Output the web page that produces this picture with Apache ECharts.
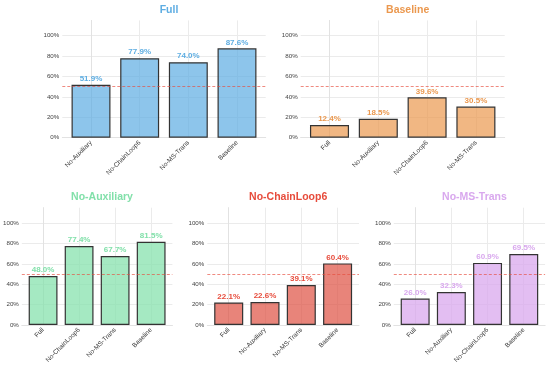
<!DOCTYPE html>
<html>
<head>
<meta charset="utf-8">
<script src="https://cdn.jsdelivr.net/npm/echarts@6/dist/echarts.min.js"></script>
<style>
html,body{margin:0;padding:0;background:#fff;}
#chart{width:550px;height:367px;}
</style>
</head>
<body>
<div id="chart"></div>
<script>
// ---- data ----
const panelTitles = ['Full', 'Baseline', 'No-Auxiliary', 'No-ChainLoop6', 'No-MS-Trans'];

const fullCats = ['No-Auxiliary', 'No-ChainLoop6', 'No-MS-Trans', 'Baseline'];
const fullVals = [51.9, 77.9, 74.0, 87.6];

const baselineCats = ['Full', 'No-Auxiliary', 'No-ChainLoop6', 'No-MS-Trans'];
const baselineVals = [12.4, 18.5, 39.6, 30.5];

const noAuxCats = ['Full', 'No-ChainLoop6', 'No-MS-Trans', 'Baseline'];
const noAuxVals = [48.0, 77.4, 67.7, 81.5];

const noChainCats = ['Full', 'No-Auxiliary', 'No-MS-Trans', 'Baseline'];
const noChainVals = [22.1, 22.6, 39.1, 60.4];

const noMSCats = ['Full', 'No-Auxiliary', 'No-ChainLoop6', 'Baseline'];
const noMSVals = [26.0, 32.3, 60.9, 69.5];

const yTicks = [0, 20, 40, 60, 80, 100];
const threshold = 50;

// ---- styling / layout ----
const FONT = '"Liberation Sans", Arial, Helvetica, sans-serif';
const panels = [
  { cats: fullCats,     vals: fullVals,     title: '#5DADE2', bar: 'rgba(93,173,226,0.7)',   left: 62.3,  width: 203.4, top: 20.4,  cx: 164 },
  { cats: baselineCats, vals: baselineVals, title: '#EB984E', bar: 'rgba(235,152,78,0.7)',   left: 300.7, width: 204.0, top: 20.4,  cx: 402.7 },
  { cats: noAuxCats,    vals: noAuxVals,    title: '#82E0AA', bar: 'rgba(130,224,170,0.72)', left: 21.5,  width: 150.9, top: 207.7, cx: 97 },
  { cats: noChainCats,  vals: noChainVals,  title: '#E74C3C', bar: 'rgba(222,80,66,0.7)',    left: 207.3, width: 151.7, top: 207.7, cx: 283.2 },
  { cats: noMSCats,     vals: noMSVals,     title: '#D9A8EE', bar: 'rgba(217,168,238,0.75)', left: 393.8, width: 151.3, top: 207.7, cx: 469.5 }
];
const plotH = 117.3;
const catIdx = [0, 1, 2, 3];

const grids = [], xAxes = [], yAxes = [], series = [], titles = [];
panels.forEach((p, i) => {
  grids.push({ left: p.left, top: p.top, width: p.width, height: plotH, containLabel: false });
  titles.push({
    text: panelTitles[i], left: p.cx, top: p.top - (i < 2 ? 20.5 : 21.5), textAlign: 'center',
    textStyle: { fontFamily: FONT, fontSize: 10.5, fontWeight: 'bold', color: p.title }
  });
  xAxes.push({
    gridIndex: i, type: 'value', min: -0.59, max: 3.59,
    axisLine: { show: true, lineStyle: { color: '#e2e2e2', width: 1 } },
    axisTick: { show: false, customValues: catIdx },
    splitLine: { show: true, lineStyle: { color: '#ebebeb', width: 1 } },
    axisLabel: {
      customValues: catIdx,
      formatter: v => p.cats[Math.round(v)],
      rotate: 45, fontSize: 6.5, color: '#333', fontFamily: FONT, margin: 4
    }
  });
  yAxes.push({
    gridIndex: i, type: 'value', min: 0, max: 115,
    axisLine: { show: true, lineStyle: { color: '#e2e2e2', width: 1 } },
    axisTick: { show: false, customValues: yTicks },
    splitLine: { show: true, lineStyle: { color: '#ebebeb', width: 1 } },
    axisLabel: {
      customValues: yTicks, formatter: '{value}%',
      fontSize: 6.2, color: '#444', fontFamily: FONT, margin: 3
    }
  });
  series.push({
    type: 'bar', xAxisIndex: i, yAxisIndex: i,
    data: p.vals.map((v, j) => [j, v]),
    barWidth: '80%',
    itemStyle: { color: p.bar, borderColor: '#333', borderWidth: 1.2 },
    label: {
      show: true, position: 'top', distance: 2,
      fontFamily: FONT, fontSize: 8, fontWeight: 'bold', color: p.title,
      formatter: q => q.value[1].toFixed(1) + '%'
    },
    markLine: {
      silent: true, symbol: 'none', animation: false,
      label: { show: false },
      lineStyle: { type: [3, 2], color: 'rgba(231,76,60,0.65)', width: 1 },
      data: [{ yAxis: threshold }]
    }
  });
});

const chart = echarts.init(document.getElementById('chart'), null, { renderer: 'canvas' });
chart.setOption({
  animation: false,
  backgroundColor: '#fff',
  title: titles,
  grid: grids,
  xAxis: xAxes,
  yAxis: yAxes,
  series: series
});
</script>
</body>
</html>
